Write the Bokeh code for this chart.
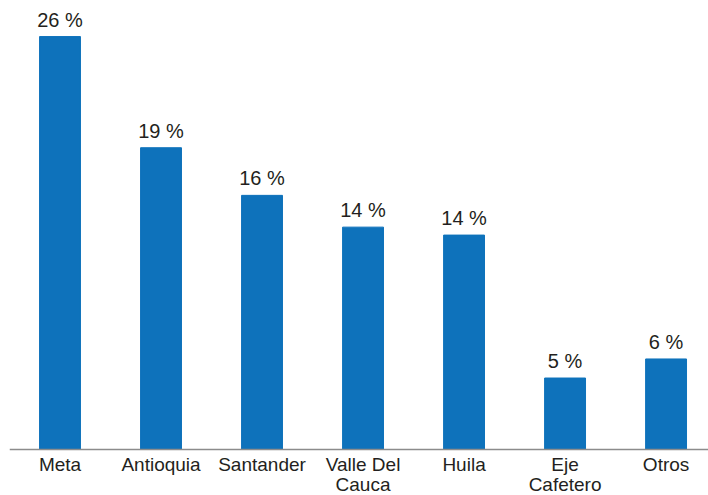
from bokeh.plotting import figure
from bokeh.models import Range1d, ColumnDataSource, Span
from bokeh.core.properties import value
from bokeh.embed import file_html
from bokeh.resources import INLINE

categories = ["Meta", "Antioquia", "Santander", "Valle Del\nCauca", "Huila", "Eje\nCafetero", "Otros"]
shares = [26.0, 19.0, 16.0, 14.0, 13.5, 4.5, 5.7]
labels = ["26 %", "19 %", "16 %", "14 %", "14 %", "5 %", "6 %"]

xs = list(range(len(categories)))
src = ColumnDataSource(dict(x=xs, top=shares, label=labels, cat=categories, base=[0] * len(xs)))

FONT = "Liberation Sans"
BLUE = "#0e72bb"
TXT = "#231f20"

p = figure(width=708, height=495, output_backend="svg", toolbar_location=None,
           x_range=Range1d(-0.5, 6.42), y_range=Range1d(-2.897, 28.27),
           min_border_left=9, min_border_right=0, min_border_top=0, min_border_bottom=0)

p.vbar(x="x", top="top", bottom=0, width=0.405, color=BLUE, source=src)
p.text(x="x", y="top", text="label", source=src, text_align="center", text_baseline="bottom",
       y_offset=-6, text_font=value(FONT), text_font_size="20px", text_color=TXT)
p.text(x="x", y="base", text="cat", source=src, text_align="center", text_baseline="top",
       y_offset=5, text_font=value(FONT), text_font_size="19px", text_color=TXT,
       text_line_height=0.95)

p.add_layout(Span(location=0, dimension="width", line_color="#8c8c8c", line_width=1.5))

p.outline_line_color = None
p.grid.visible = False
p.axis.visible = False

open("out.html", "w").write(file_html(p, INLINE))
